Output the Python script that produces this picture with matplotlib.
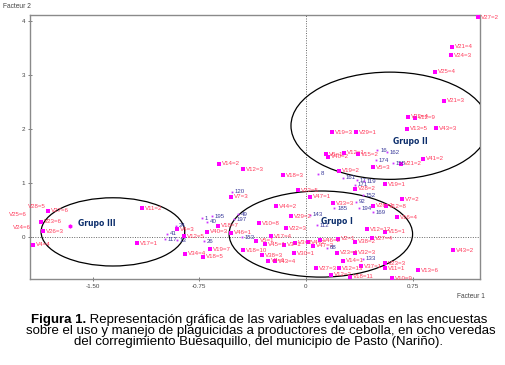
import matplotlib
matplotlib.use("Agg")
import matplotlib.pyplot as plt
from matplotlib.patches import Ellipse

# variable modalities (magenta squares, red labels)
var_labels = ["V27=2", "V21=4", "V24=3", "V25=4", "V21=3", "V22=4", "V12=9", "V13=5", "V43=3",
              "V19=3", "V29=1", "V12=1", "V15=2", "V6=1", "V40=2", "V21=2", "V41=2", "V5=3",
              "V19=2", "V19=1", "V28=2", "V22=5", "V47=1", "V33=3", "V26=1", "V12=8", "V7=2",
              "V16=4", "V12=12", "V15=1", "V27=4", "V43=2", "V23=3", "V11=1", "V13=6", "V10=9",
              "V18=11", "V37=1", "V27=3", "V12=13", "V12=2", "V14=2", "V12=3", "V18=3", "V7=3",
              "V44=2", "V29=2", "V10=8", "V22=3", "V46=1", "V17=4", "V5=1", "V45=1", "V18=10",
              "V38=3", "V4=1", "V43=4", "V3=1", "V3=2", "V4=2", "V46=2", "V47=2", "V30=1",
              "V38=2", "V23=4", "V32=3", "V14=1", "V2=1", "V40=3", "V18=7", "V19=7", "V18=5",
              "V34=4", "V12=5", "V4=3", "V11=2", "V17=1", "V28=5", "V25=6", "V24=6", "V27=6",
              "V23=6", "V26=3", "V4=4"]
var_x = [1.212, 1.027, 1.022, 0.909, 0.968, 0.715, 0.765, 0.712, 0.914,
         0.185, 0.350, 0.267, 0.366, 0.140, 0.153, 0.668, 0.821, 0.469,
         0.234, 0.556, 0.345, -0.054, 0.028, 0.192, 0.469, 0.563, 0.675,
         0.638, 0.429, 0.558, 0.464, 1.036, 0.558, 0.558, 0.786, 0.605,
         0.309, 0.387, 0.070, 0.232, 0.176, -0.610, -0.441, -0.160, -0.527,
         -0.213, -0.108, -0.328, -0.141, -0.527, -0.246, -0.348, -0.288, -0.445,
         -0.312, -0.270, -0.218, -0.155, -0.077, 0.014, 0.098, 0.049, -0.084,
         0.345, 0.218, 0.345, 0.260, 0.225, -0.696, -0.619, -0.675, -0.724,
         -0.851, -0.858, -0.907, -1.155, -1.191, -1.976, -2.110, -2.082, -1.814,
         -1.864, -1.850, -1.922]
var_y = [4.063, 3.520, 3.361, 3.058, 2.523, 2.222, 2.205, 2.000, 2.013,
         1.939, 1.939, 1.562, 1.538, 1.530, 1.488, 1.354, 1.446, 1.293,
         1.230, 0.984, 0.892, 0.873, 0.750, 0.628, 0.584, 0.578, 0.702,
         0.369, 0.153, 0.098, -0.018, -0.235, -0.480, -0.572, -0.604, -0.752,
         -0.733, -0.530, -0.572, -0.567, -0.696, 1.354, 1.256, 1.150, 0.750,
         0.578, 0.393, 0.259, 0.166, 0.085, 0.024, -0.068, -0.124, -0.235,
         -0.327, -0.432, -0.438, -0.142, -0.105, -0.087, -0.050, -0.160, -0.290,
         -0.081, -0.284, -0.284, -0.432, -0.031, 0.103, 0.209, -0.222, -0.355,
         -0.308, 0.015, 0.153, 0.536, -0.111, 0.565, 0.412, 0.172, 0.486,
         0.288, 0.116, -0.142]

# individuals (small points, navy labels)
ind_labels = ["16", "162", "174", "155", "8", "161", "17", "119", "171", "152", "194", "169",
              "92", "185", "120", "1", "40", "195", "197", "49", "24", "41", "117", "13",
              "26", "143", "112", "153", "133", "88"]
ind_x = [0.502, 0.570, 0.492, 0.614, 0.087, 0.258, 0.357, 0.408, 0.345, 0.403, 0.370, 0.469,
         0.352, 0.200, -0.523, -0.733, -0.696, -0.663, -0.506, -0.476, -0.914, -0.975, -0.992, -0.907,
         -0.720, 0.030, 0.080, -0.450, 0.400, 0.150]
ind_y = [1.612, 1.575, 1.427, 1.367, 1.169, 1.101, 1.058, 1.034, 0.966, 0.781, 0.536, 0.462,
         0.657, 0.540, 0.842, 0.351, 0.288, 0.393, 0.332, 0.425, 0.209, 0.061, -0.037, -0.050,
         -0.070, 0.420, 0.220, 0.000, -0.400, -0.190]

# unlabelled supplementary point
extra_x = [-1.66]
extra_y = [0.209]

# groups: centre x, centre y, width, height, label position
grp_names = ["Grupo I", "Grupo II", "Grupo III"]
grp_cx = [0.105, 0.590, -1.357]
grp_cy = [0.060, 2.060, 0.100]
grp_w = [1.29, 1.39, 1.01]
grp_h = [1.59, 1.98, 1.26]
grp_lx = [0.218, 0.731, -1.470]
grp_ly = [0.288, 1.773, 0.246]

plt.rcParams['font.family'] = ['Liberation Sans', 'DejaVu Sans']

fig = plt.figure(figsize=(5.06, 3.65), dpi=100)
ax = fig.add_axes([30 / 506, 1 - 279 / 365, 450 / 506, 264 / 365])
ax.set_xlim(-1.94, 1.224)
ax.set_ylim(-0.77, 4.105)

ax.axvline(0, color='#666666', ls=(0, (1, 1.5)), lw=0.7, zorder=1)
ax.axhline(0, color='#666666', ls=(0, (1, 1.5)), lw=0.7, zorder=1)

for cx, cy, w, h in zip(grp_cx, grp_cy, grp_w, grp_h):
    ax.add_patch(Ellipse((cx, cy), w, h, fill=False, ec='black', lw=0.9, zorder=3))

ax.plot(var_x, var_y, 's', color='#ff00ff', ms=2.4, mew=0, zorder=4)
for lab, x, y in zip(var_labels, var_x, var_y):
    ax.annotate(lab, (x, y), xytext=(2.2, 0), textcoords='offset points',
                fontsize=4.4, color='#ff3b5c', va='center', ha='left',
                annotation_clip=False, zorder=5)

ax.plot(ind_x, ind_y, 's', color='#cc33ff', ms=1.3, mew=0, zorder=4)
for lab, x, y in zip(ind_labels, ind_x, ind_y):
    ax.annotate(lab, (x, y), xytext=(2, 0), textcoords='offset points',
                fontsize=4.4, color='#3a3a9a', va='center', ha='left', zorder=5)

ax.plot(extra_x, extra_y, 'h', color='#ff00ff', ms=3.2, mew=0, zorder=4)

for name, x, y in zip(grp_names, grp_lx, grp_ly):
    ax.text(x, y, name, fontsize=5.5, color='#0b2d6b', ha='center', va='center',
            fontweight='bold', family='DejaVu Sans', zorder=6)

for s in ax.spines.values():
    s.set_color('#8a8a8a')
    s.set_linewidth(1.0)
ax.set_xticks([-1.5, -0.75, 0, 0.75])
ax.set_xticklabels(["-1.50", "-0.75", "0", "0.75"])
ax.set_yticks([0, 1, 2, 3, 4])
ax.tick_params(direction='inout', length=3, width=0.6, color='#666666',
               labelsize=4.5, labelcolor='#444444', pad=2)

fig.text(3 / 506, 1 - 7 / 365, "Facteur 2", fontsize=4.8, color='#444444', va='center', ha='left')
fig.text(485 / 506, 1 - 297 / 365, "Facteur 1", fontsize=4.8, color='#444444', va='center', ha='right')

# caption
cap_size = 9.5
bold = fig.text(0, 1 - 319.5 / 365, "Figura 1.", fontsize=cap_size, fontweight='bold', va='center', ha='left')
rest = fig.text(0, 1 - 319.5 / 365, " Representación gráfica de las variables evaluadas en las encuestas",
                fontsize=cap_size, va='center', ha='left')
fig.canvas.draw()
r = fig.canvas.get_renderer()
wb = bold.get_window_extent(r).width
wr = rest.get_window_extent(r).width
x0 = 259.5 - (wb + wr) / 2
bold.set_x(x0 / 506)
rest.set_x((x0 + wb) / 506)
fig.text(260.5 / 506, 1 - 330.8 / 365,
         "sobre el uso y manejo de plaguicidas a productores de cebolla, en ocho veredas",
         fontsize=cap_size, va='center', ha='center')
fig.text(259 / 506, 1 - 342.2 / 365,
         "del corregimiento Buesaquillo, del municipio de Pasto (Nariño).",
         fontsize=cap_size, va='center', ha='center')

fig.savefig("out.png", dpi=100)
